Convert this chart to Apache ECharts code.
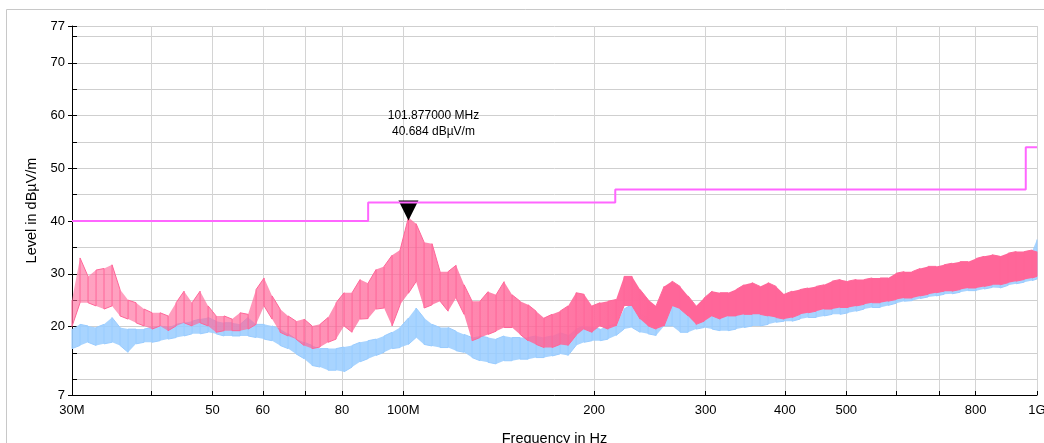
<!DOCTYPE html>
<html>
<head>
<meta charset="utf-8">
<script src="https://cdn.jsdelivr.net/npm/echarts@6/dist/echarts.min.js"></script>
<style>
  html, body { margin: 0; padding: 0; background: #fff; }
  #main { width: 1044px; height: 443px; }
</style>
</head>
<body>
<div id="main"></div>
<script>
var freqMHz = [
  30.0, 30.89, 31.8, 32.74, 33.7, 34.7, 35.72, 36.78, 37.86, 38.98,
  40.13, 41.31, 42.53, 43.79, 45.08, 46.41, 47.78, 49.19, 50.64, 52.13,
  53.67, 55.26, 56.89, 58.56, 60.29, 62.07, 63.9, 65.78, 67.72, 69.72,
  71.78, 73.89, 76.07, 78.32, 80.63, 83.01, 85.45, 87.97, 90.57, 93.24,
  95.99, 98.82, 101.877, 104.74, 107.83, 111.01, 114.28, 117.65, 121.12, 124.7,
  128.37, 132.16, 136.06, 140.07, 144.2, 148.46, 152.84, 157.35, 161.99, 166.77,
  171.69, 176.75, 181.97, 187.33, 192.86, 198.55, 204.41, 210.44, 216.64, 223.03,
  229.61, 236.39, 243.36, 250.54, 257.93, 265.54, 273.38, 281.44, 289.74, 298.29,
  307.09, 316.15, 325.48, 335.08, 344.96, 355.14, 365.62, 376.4, 387.51, 398.94,
  410.71, 422.82, 435.3, 448.14, 461.36, 474.97, 488.98, 503.41, 518.26, 533.55,
  549.29, 565.49, 582.18, 599.35, 617.03, 635.24, 653.98, 673.27, 693.13, 713.58,
  734.63, 756.31, 778.62, 801.59, 825.24, 849.58, 874.65, 900.45, 927.02, 954.37,
  982.52, 1000
];

// peak trace (pink): upper and lower edge of the noise band, dBµV/m
var pinkHi = [
  25, 33, 29.5, 30.7, 31, 31.7, 27, 25, 24.5, 23.3,
  22.6, 22.6, 22, 24.5, 26.7, 24.5, 26.7, 23.9, 22, 22,
  21.4, 22.6, 22.3, 27, 29.2, 25.8, 23.3, 22, 21, 21.4,
  20.1, 20.4, 21.7, 24.5, 26.4, 26.4, 28.9, 28.2, 30.8, 31.4,
  33.5, 34.5, 40.684, 39.5, 36, 35.7, 30.4, 30.4, 31.6, 27.9,
  24.8, 24.8, 26.6, 26, 28.5, 26, 24.8, 24.1, 22.9, 21.6,
  22.3, 22.9, 23.9, 26.4, 26.1, 23.9, 24.5, 24.8, 25.1, 29.5,
  29.5, 27, 25.1, 23.9, 27.6, 28.6, 27.6, 25.8, 23.9, 25.4,
  26.7, 26.4, 26.4, 27, 27.9, 28.3, 27.6, 28.3, 27.6, 26.1,
  26.7, 27, 27.3, 27.6, 27.9, 28.6, 28.9, 28.6, 28.9, 28.9,
  29.2, 29.2, 29.2, 30.1, 30.4, 30.4, 31, 31.4, 31.4, 31.7,
  32, 32.3, 32.3, 32.9, 33.3, 33.6, 33.3, 33.9, 34.2, 34.2,
  34.5, 34.2
];
var pinkLo = [
  20, 24.5, 24.5, 23.9, 23.3, 23.9, 22, 21.4, 20.7, 20.1,
  19.5, 20.1, 19.2, 20.1, 20.7, 20.1, 20.7, 20.1, 18.9, 19.2,
  19.2, 19.2, 19.5, 20.4, 23.9, 21.4, 18.9, 18.2, 17.6, 16.4,
  15.8, 16.1, 17, 17.6, 20.1, 18.9, 21.4, 21.5, 23.3, 23.5,
  20.1, 24.1, 26.3, 28.5, 23.5, 24.1, 24.8, 22.9, 25.4, 22.3,
  17.3, 17.9, 18.5, 19.1, 19.8, 19.8, 18.5, 17.3, 16.6, 16,
  16, 16.6, 16.4, 18.3, 19.5, 18.9, 20.1, 19.5, 20.1, 23.9,
  23.9, 21.4, 20.1, 19.5, 20.1, 23.9, 23.3, 22, 20.4, 21,
  22, 21.4, 22, 22, 22.3, 22.3, 22.3, 22, 21.7, 21.4,
  21.7, 22.3, 22.6, 22.9, 23.3, 23.3, 23.6, 23.6, 23.9, 24.2,
  24.5, 24.5, 24.8, 25.1, 25.4, 25.4, 25.8, 26.1, 26.4, 26.7,
  26.7, 27, 27.3, 27.3, 27.6, 27.9, 27.9, 28.3, 28.6, 28.9,
  29.2, 29.5
];

// average trace (light blue)
var blueHi = [
  19.5, 20.4, 20.1, 19.8, 20.4, 21.7, 19.8, 19.5, 19.5, 19.5,
  19.8, 20.1, 19.8, 20.4, 20.7, 21, 21.4, 21.7, 21, 20.7,
  20.7, 20.4, 21.7, 20.4, 20.4, 20.1, 19.5, 18.6, 17.6, 17,
  16.4, 15.8, 15.8, 15.8, 16.1, 16.4, 17, 17.3, 17.6, 18.2,
  18.9, 19.8, 21.6, 23.5, 21.6, 20.4, 19.8, 19.8, 19.1, 18.5,
  17.9, 18.2, 17.9, 17.6, 18.2, 17.9, 17.9, 17.9, 18.2, 17.9,
  18.2, 18.8, 18.3, 19.5, 20.1, 19.8, 19.5, 20.1, 20.4, 23.3,
  24.2, 22.3, 21.7, 20.8, 23.3, 23.9, 23.6, 22.9, 21.4, 22.3,
  22.6, 22.6, 23.3, 22.3, 22.9, 22.9, 22.6, 23.3, 22.6, 22,
  22.6, 22.9, 23.3, 23.3, 23.6, 23.9, 23.9, 24.2, 24.2, 24.5,
  24.8, 25, 28.8, 29.6, 30, 30.2, 30.6, 31.2, 31, 31.5,
  31.6, 32.1, 32, 32.6, 33, 33.2, 33.2, 33.5, 34, 33.9,
  34.3, 36.5
];
var blueLo = [
  15.8, 16.4, 17, 16.4, 16.7, 17, 16.4, 15.1, 16.7, 17,
  17, 17.3, 17.6, 17.9, 18.2, 18.6, 18.6, 18.9, 18.6, 18.2,
  18.2, 18.2, 18.2, 17.9, 17.6, 17.3, 16.4, 15.8, 14.8, 13.9,
  12.6, 12.3, 11.7, 11.7, 11.4, 12.3, 13.3, 13.9, 14.5, 15.1,
  15.8, 16, 16.6, 17.9, 16.6, 16.3, 16, 16, 15.4, 15.1,
  14.1, 13.5, 13.2, 12.9, 13.5, 13.5, 13.8, 13.8, 14.1, 14.1,
  14.4, 14.8, 14.5, 16.4, 17, 17.3, 17.3, 17.6, 18.3, 19.5,
  19.8, 18.9, 18.6, 18.3, 20.1, 20.1, 18.9, 18.9, 19.5, 19.8,
  19.5, 19.2, 19.2, 19.5, 19.8, 20.1, 20.1, 20.4, 20.8, 21,
  21, 21.4, 21.7, 21.7, 22, 22.3, 22.3, 22.6, 22.9, 23.3,
  23.6, 23.6, 24, 24.4, 24.8, 24.9, 25.3, 25.6, 25.8, 26.1,
  26.2, 26.5, 26.8, 26.8, 27.1, 27.4, 27.3, 27.8, 28.1, 28.4,
  28.7, 29
];

// limit line (steps)
var limitFreq = [30, 88, 88, 216, 216, 960, 960, 1000];
var limitLevel = [40, 40, 43.5, 43.5, 46, 46, 54, 54];

// marker
var markerFreq = 101.877;
var markerLevel = 40.684;

// axis ticks / labels
var xTicks = [30, 40, 50, 60, 70, 80, 100, 200, 300, 400, 500, 600, 700, 800, 1000];
var xLabels = [30, 50, 60, 80, 100, 200, 300, 400, 500, 800, 1000];
var yTicks = [7, 10, 15, 20, 25, 30, 35, 40, 45, 50, 55, 60, 65, 70, 75, 77];
var yLabels = [7, 20, 30, 40, 50, 60, 70, 77];

var FONT = '"Liberation Sans", Arial, sans-serif';
var PINK = '#ff6699';
var BLUE = '#99ccff';

// vertical strokes hi->lo, lo->hi alternating, like spectrum noise
function strokes(hi, lo) {
  var d = [];
  for (var i = 0; i < freqMHz.length; i++) {
    if (i % 2 === 0) {
      d.push([freqMHz[i], hi[i]]);
      d.push([freqMHz[i], lo[i]]);
    } else {
      d.push([freqMHz[i], lo[i]]);
      d.push([freqMHz[i], hi[i]]);
    }
  }
  return d;
}

// filled band between lo and hi, drawn through the axis scales
function band(hi, lo, fill, z) {
  return {
    type: 'custom',
    silent: true,
    z: z,
    data: [[freqMHz[0], lo[0]]],
    renderItem: function (params, api) {
      var pts = [];
      for (var i = 0; i < freqMHz.length; i++) pts.push(api.coord([freqMHz[i], hi[i]]));
      for (var j = freqMHz.length - 1; j >= 0; j--) pts.push(api.coord([freqMHz[j], lo[j]]));
      return { type: 'polygon', shape: { points: pts }, style: { fill: fill } };
    }
  };
}

var chart = echarts.init(document.getElementById('main'));

var option = {
  animation: false,
  backgroundColor: '#fff',
  textStyle: { fontFamily: FONT },
  graphic: [{
    type: 'rect',
    shape: { x: 6.5, y: 9.5, width: 1100, height: 500 },
    style: { fill: 'none', stroke: '#c8c8c8', lineWidth: 1 },
    silent: true
  }],
  grid: { left: 72, right: 7, top: 26, bottom: 48, outerBoundsMode: 'none', containLabel: false },
  xAxis: {
    type: 'log',
    logBase: 10,
    min: 30,
    max: 1000,
    name: 'Frequency in Hz',
    nameLocation: 'middle',
    nameGap: 36,
    nameTextStyle: { color: '#000', fontSize: 14.5, fontFamily: FONT },
    axisLine: { lineStyle: { color: '#000', width: 1 } },
    axisTick: { show: true, inside: true, length: 4, customValues: xTicks, lineStyle: { color: '#000' } },
    axisLabel: {
      customValues: xLabels,
      color: '#000',
      fontSize: 13,
      margin: 9,
      fontFamily: FONT,
      formatter: function (v) {
        var r = Math.round(v);
        if (r === 30) return '30M';
        if (r === 100) return '100M';
        if (r === 1000) return '1G';
        return String(r);
      }
    },
    splitLine: { show: true, lineStyle: { color: '#d4d4d4', width: 1 } },
    minorTick: { show: false },
    minorSplitLine: { show: false }
  },
  yAxis: [{
    type: 'value',
    min: 7,
    max: 77,
    name: 'Level in dBµV/m',
    nameLocation: 'middle',
    nameGap: 32,
    nameTextStyle: { color: '#000', fontSize: 14.5, fontFamily: FONT },
    axisLine: { show: true, lineStyle: { color: '#000', width: 1 } },
    axisTick: { show: true, inside: true, length: 5, customValues: yTicks, lineStyle: { color: '#000' } },
    axisLabel: { customValues: yLabels, color: '#000', fontSize: 13, margin: 7, fontFamily: FONT },
    splitLine: { show: true, lineStyle: { color: '#cfcfcf', width: 1 } }
  }, {
    // outer half of the labelled ticks
    type: 'value',
    position: 'left',
    min: 7,
    max: 77,
    axisLine: { show: false },
    axisTick: { show: true, inside: false, length: 4, customValues: yLabels, lineStyle: { color: '#000' } },
    axisLabel: { show: false },
    splitLine: { show: false }
  }],
  series: [
    band(blueHi, blueLo, 'rgba(153,204,255,0.85)', 1),
    {
      name: 'Average', type: 'line', data: strokes(blueHi, blueLo),
      symbol: 'none', silent: true, lineStyle: { color: BLUE, width: 1 }, z: 2
    },
    band(pinkHi, pinkLo, new echarts.graphic.LinearGradient(0, 0, 1, 0, [
      { offset: 0, color: 'rgba(255,102,153,0.6)' },
      { offset: 0.45, color: 'rgba(255,102,153,0.8)' },
      { offset: 0.6, color: 'rgba(255,102,153,1)' },
      { offset: 1, color: 'rgba(255,102,153,1)' }
    ]), 3),
    {
      name: 'Peak', type: 'line', data: strokes(pinkHi, pinkLo),
      symbol: 'none', silent: true, lineStyle: { color: PINK, width: 1 }, z: 4,
      markPoint: {
        silent: true,
        symbol: 'triangle',
        symbolSize: [20, 20],
        symbolRotate: 180,
        symbolOffset: [0, -7],
        itemStyle: { color: '#000' },
        label: {
          show: true,
          position: 'inside',
          offset: [25, -87],
          color: '#000',
          fontSize: 12,
          lineHeight: 16,
          fontFamily: FONT,
          formatter: markerFreq.toFixed(6) + ' MHz\n' + markerLevel.toFixed(3) + ' dBµV/m'
        },
        data: [{ coord: [markerFreq, markerLevel] }]
      }
    },
    {
      name: 'Limit', type: 'line',
      data: limitFreq.map(function (f, i) { return [f, limitLevel[i]]; }),
      symbol: 'none', silent: true, lineStyle: { color: '#ff66ff', width: 2 }, z: 5
    }
  ]
};

chart.setOption(option);
</script>
</body>
</html>
